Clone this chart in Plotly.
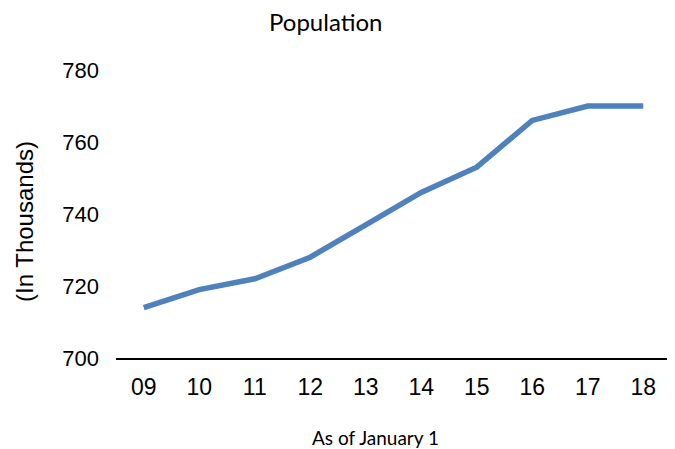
import plotly.graph_objects as go

years = ["09", "10", "11", "12", "13", "14", "15", "16", "17", "18"]
population = [714, 719, 722, 728, 737, 746, 753, 766, 770, 770]
y_ticks = [700, 720, 740, 760, 780]

# The page body adds an 8px margin, so the figure is sized/positioned to compensate.
OFF = 8
W, H = 675 - OFF, 449 - OFF
L, R, T, B = 116 - OFF, 4, 70 - OFF, 91
pw, ph = W - L - R, H - T - B


def px(x, y):
    """Reference-screenshot pixel -> paper coords."""
    return (x - OFF - L) / pw, (H - B - (y - OFF)) / ph


fig = go.Figure()
fig.add_trace(go.Scatter(
    x=years, y=population, mode="lines",
    line=dict(color="#4F81BD", width=5.5),
    hoverinfo="x+y",
))

tx, ty = px(325, 22)
xx, xy = px(375, 437)
yx, yy = px(24, 222)

fig.update_layout(
    width=W, height=H,
    margin=dict(l=L, r=R, t=T, b=B, autoexpand=False),
    paper_bgcolor="white", plot_bgcolor="white",
    showlegend=False,
    xaxis=dict(
        type="category", range=[-0.5, 9.5], showgrid=False, zeroline=False,
        showline=True, linecolor="black", linewidth=2,
        ticks="", ticklabelstandoff=7, automargin=False,
        tickfont=dict(family="Liberation Sans", size=23, color="black"),
    ),
    yaxis=dict(
        range=[700, 780], tickvals=y_ticks, showgrid=False, zeroline=False,
        showline=False, ticks="", ticklabelstandoff=16, automargin=False,
        tickfont=dict(family="Liberation Sans", size=22, color="black"),
    ),
    annotations=[
        dict(text="Population", x=tx, y=ty, xref="paper", yref="paper",
             showarrow=False, xanchor="center", yanchor="middle",
             font=dict(family="Lato", size=24, color="black")),
        dict(text="As of January 1", x=xx, y=xy, xref="paper", yref="paper",
             showarrow=False, xanchor="center", yanchor="middle",
             font=dict(family="Lato", size=19, color="black")),
        dict(text="(In Thousands)", x=yx, y=yy, xref="paper", yref="paper",
             showarrow=False, textangle=-90, xanchor="center", yanchor="middle",
             font=dict(family="Liberation Sans", size=24, color="black")),
    ],
)

fig.write_html("out.html")
